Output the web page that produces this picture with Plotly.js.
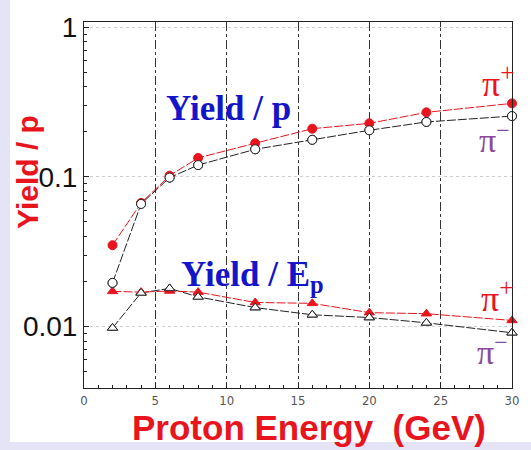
<!DOCTYPE html>
<html>
<head>
<meta charset="utf-8">
<script src="https://cdn.plot.ly/plotly-3.0.1.min.js"></script>
<style>
  html, body { margin: 0; padding: 0; background: #e4e4f6; width: 531px; height: 450px; overflow: hidden; }
  #chart { position: absolute; left: 10px; top: 0px; width: 521px; height: 450px; }
</style>
</head>
<body>
<div id="chart"></div>
<script>
// Proton energy (GeV)
const energy = [2, 4, 6, 8, 12, 16, 20, 24, 30];
// Yield per proton
const yieldPerP_piPlus  = [0.035, 0.067, 0.102, 0.134, 0.168, 0.210, 0.228, 0.270, 0.310];
const yieldPerP_piMinus = [0.0196, 0.066, 0.099, 0.120, 0.153, 0.177, 0.205, 0.233, 0.255];
// Yield per proton energy
const yieldPerE_piPlus  = [0.0172, 0.0170, 0.0173, 0.0170, 0.0145, 0.0143, 0.0124, 0.0122, 0.0110];
const yieldPerE_piMinus = [0.0098, 0.0168, 0.0180, 0.0158, 0.0134, 0.0120, 0.0115, 0.0106, 0.0091];

const xTicks = [0, 5, 10, 15, 20, 25, 30];
const yTicks = [0.01, 0.1, 1];
const yTickText = ['0.01', '0.1', '1'];
const yMinor = [0.005,0.006,0.007,0.008,0.009,0.02,0.03,0.04,0.05,0.06,0.07,0.08,0.09,0.2,0.3,0.4,0.5,0.6,0.7,0.8,0.9];

const RED = '#e8141e';
const BLUE = '#1414c8';
const PURPLE = '#8c4a9e';

function mk(y, sym, fill, lineColor, dash) {
  return {
    x: energy, y: y, type: 'scatter', mode: 'lines+markers',
    line: {color: lineColor, width: 1, dash: dash},
    marker: {symbol: sym, size: 9, color: fill, line: {color: fill === 'white' ? '#222' : RED, width: 1}},
    cliponaxis: false, showlegend: false
  };
}

const traces = [
  mk(yieldPerE_piMinus, 'triangle-up', 'white', '#222', '9px,2px'),
  mk(yieldPerE_piPlus, 'triangle-up', RED, RED, '9px,2px'),
  mk(yieldPerP_piMinus, 'circle', 'white', '#222', '9px,2px'),
  mk(yieldPerP_piPlus, 'circle', RED, RED, '9px,2px')
];
// keep open pi- markers on top at low energy where points overlap
traces.push(Object.assign(mk(yieldPerP_piMinus, 'circle', 'white', '#222', 'solid'), {mode: 'markers'}));
traces.push(Object.assign(mk(yieldPerE_piMinus, 'triangle-up', 'white', '#222', 'solid'), {mode: 'markers'}));

// pixel -> paper helpers (plot area spans x 84..512, y 22..388 in page pixels)
const px = X => (X - 84) / 428;
const py = Y => (388 - Y) / 366;

const annotations = [
  {text: '<b>Yield / p</b>', x: px(228), y: py(108), font: {family: 'Liberation Serif', size: 35, color: BLUE}},
  {text: '<b>Yield / E<sub>p</sub></b>', x: px(252), y: py(276), font: {family: 'Liberation Serif', size: 35, color: BLUE}},
  {text: 'π<sup>+</sup>', x: px(498), y: py(82), font: {family: 'Liberation Serif', size: 36, color: RED}},
  {text: 'π<sup>−</sup>', x: px(494), y: py(138), font: {family: 'Liberation Serif', size: 34, color: PURPLE}},
  {text: 'π<sup>+</sup>', x: px(497), y: py(296), font: {family: 'Liberation Serif', size: 36, color: RED}},
  {text: 'π<sup>−</sup>', x: px(492), y: py(350), font: {family: 'Liberation Serif', size: 34, color: PURPLE}},
  {text: '<b>Yield / p</b>', x: px(27), y: py(172), textangle: -90, font: {family: 'Liberation Sans', size: 30, color: RED}},
  {text: '<b>Proton Energy  (GeV)</b>', x: px(309), y: py(427), font: {family: 'Liberation Sans', size: 35, color: RED}}
].map(a => Object.assign({xref: 'paper', yref: 'paper', showarrow: false, xanchor: 'center', yanchor: 'middle'}, a));

const layout = {
  width: 521, height: 450,
  margin: {l: 74, r: 19, t: 22, b: 62, pad: 0},
  paper_bgcolor: 'white', plot_bgcolor: 'white',
  shapes: [
    {type: 'rect', xref: 'paper', yref: 'paper', layer: 'below',
     x0: px(10), x1: px(531), y0: py(442), y1: py(450),
     fillcolor: '#e4e4f6', line: {width: 0}}
  ],
  xaxis: {
    range: [0, 30], tickvals: xTicks, ticks: 'inside', ticklen: 5, tickcolor: '#222',
    showline: true, linecolor: '#222', linewidth: 1, mirror: true,
    showgrid: true, gridcolor: '#333', gridwidth: 1, griddash: 'dashdot',
    zeroline: false,
    tickfont: {family: 'DejaVu Sans Condensed', size: 13, color: '#555'},
    minor: {dtick: 1, ticks: 'inside', ticklen: 3, tickcolor: '#222', showgrid: false}
  },
  yaxis: {
    type: 'log', range: [-2.41, 0.035],
    tickvals: yTicks, ticktext: yTickText, ticks: 'inside', ticklen: 5, tickcolor: '#222',
    showline: true, linecolor: '#222', linewidth: 1, mirror: true,
    showgrid: true, gridcolor: '#cfcfcf', gridwidth: 1, griddash: 'dot',
    zeroline: false,
    tickfont: {family: 'Liberation Sans', size: 28, color: '#111'},
    minor: {tickvals: yMinor, ticks: 'inside', ticklen: 3, tickcolor: '#222', showgrid: false}
  },
  annotations: annotations
};

Plotly.newPlot('chart', traces, layout, {displayModeBar: false, staticPlot: true});
</script>
</body>
</html>
